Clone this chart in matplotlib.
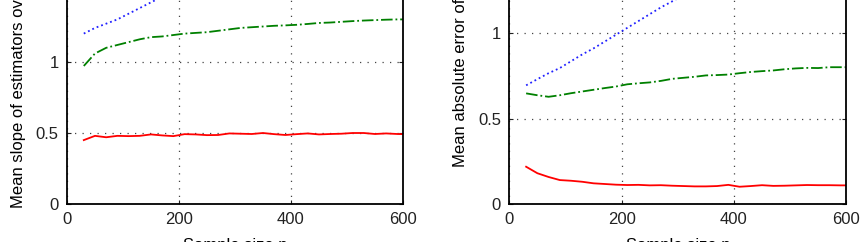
import matplotlib
matplotlib.use("Agg")
import matplotlib.pyplot as plt

plt.rcParams['font.family'] = ['Liberation Sans', 'DejaVu Sans']

# sample sizes
n = [30, 50, 70, 90, 110, 130, 150, 170, 190, 210, 230, 250, 270, 290, 310,
     330, 350, 370, 390, 410, 430, 450, 470, 490, 510, 530, 550, 570, 590, 600]

# left panel: mean slope
slope_blue = [1.20, 1.24, 1.27, 1.30, 1.34, 1.38, 1.42, 1.46, 1.50, 1.53, 1.57, 1.60,
              1.63, 1.66, 1.69, 1.72, 1.75, 1.78, 1.81, 1.83, 1.86, 1.88, 1.91, 1.93,
              1.96, 1.98, 2.00, 2.03, 2.05, 2.06]
slope_green = [0.972, 1.06, 1.10, 1.12, 1.14, 1.16, 1.175, 1.18, 1.19, 1.20, 1.205, 1.21,
               1.22, 1.23, 1.24, 1.245, 1.25, 1.255, 1.258, 1.262, 1.268, 1.275, 1.278,
               1.283, 1.288, 1.292, 1.295, 1.298, 1.30, 1.30]
slope_red = [0.45, 0.48, 0.47, 0.48, 0.478, 0.48, 0.49, 0.483, 0.478, 0.492, 0.49, 0.485,
             0.486, 0.497, 0.495, 0.493, 0.50, 0.492, 0.486, 0.492, 0.497, 0.49, 0.493,
             0.495, 0.50, 0.50, 0.493, 0.497, 0.493, 0.492]

# right panel: mean absolute error
mae_blue = [0.694, 0.73, 0.765, 0.795, 0.835, 0.875, 0.91, 0.95, 0.99, 1.03, 1.07, 1.11,
            1.15, 1.185, 1.22, 1.26, 1.29, 1.33, 1.36, 1.40, 1.43, 1.46, 1.50, 1.53,
            1.56, 1.59, 1.62, 1.65, 1.68, 1.70]
mae_green = [0.647, 0.636, 0.627, 0.636, 0.648, 0.658, 0.668, 0.678, 0.687, 0.70, 0.706,
             0.711, 0.72, 0.732, 0.738, 0.744, 0.752, 0.754, 0.757, 0.765, 0.772, 0.777,
             0.781, 0.788, 0.793, 0.796, 0.795, 0.80, 0.80, 0.80]
mae_red = [0.218, 0.18, 0.158, 0.14, 0.136, 0.13, 0.121, 0.117, 0.113, 0.111, 0.112, 0.109,
           0.11, 0.107, 0.105, 0.103, 0.103, 0.105, 0.112, 0.101, 0.105, 0.11, 0.106,
           0.107, 0.109, 0.111, 0.11, 0.11, 0.109, 0.109]

fig = plt.figure(figsize=(8.61, 2.42), dpi=100)

# axes extend past the top of the figure (picture is a crop)
ax1 = fig.add_axes([0.0778, 0.157, 0.3902, 2.5 * 142 / 242])
ax2 = fig.add_axes([0.5915, 0.157, 0.3914, 2.0 * 171 / 242])


def style(ax, ymax, ylabel, ly):
    ax.set_xlim(0, 600)
    ax.set_ylim(0, ymax)
    ax.set_xticks([0, 200, 400, 600])
    ax.set_yticks([v * 0.5 for v in range(int(ymax * 2) + 1)])
    ax.set_yticklabels(['0', '0.5', '1', '1.5', '2', '2.5'][:int(ymax * 2) + 1])
    ax.grid(True, linestyle=(0, (1, 5)), color='#444444', linewidth=0.9)
    ax.tick_params(direction='in', top=True, right=True, length=3,
                   labelsize=12, colors='#222222', pad=6)
    for s in ax.spines.values():
        s.set_linewidth(1.3)
    ax.set_xlabel('Sample size n', fontsize=12, labelpad=8)
    ax.set_ylabel(ylabel, fontsize=12)
    ax.yaxis.label.set_ha('left')
    ax.yaxis.set_label_coords(-0.122, ly)


ax1.plot(n, slope_blue, color='#2020ff', linestyle=':', linewidth=1.3)
ax1.plot(n, slope_green, color='#008000', linestyle='-.', linewidth=1.3)
ax1.plot(n, slope_red, color='#ff0000', linestyle='-', linewidth=1.3)
style(ax1, 2.5, 'Mean slope of estimators over replications', -0.011)

ax2.plot(n, mae_blue, color='#2020ff', linestyle=':', linewidth=1.3)
ax2.plot(n, mae_green, color='#008000', linestyle='-.', linewidth=1.3)
ax2.plot(n, mae_red, color='#ff0000', linestyle='-', linewidth=1.3)
style(ax2, 2.0, 'Mean absolute error of estimators', 0.108)

fig.savefig('out.png', dpi=100)
